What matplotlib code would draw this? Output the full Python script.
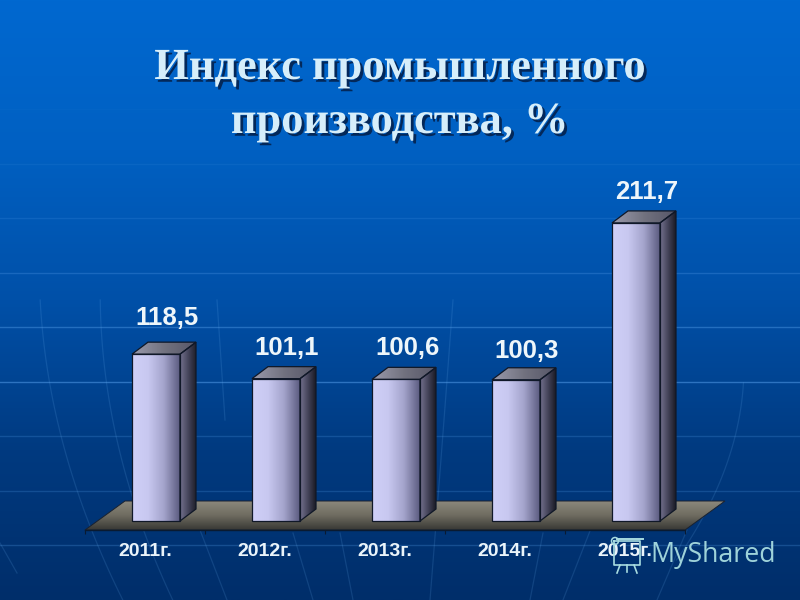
import numpy as np
import matplotlib
matplotlib.use("Agg")
import matplotlib.pyplot as plt
from matplotlib.colors import LinearSegmentedColormap as LSC
from matplotlib.patches import Polygon
import matplotlib.patheffects as pe

years = ["2011г.", "2012г.", "2013г.", "2014г.", "2015г."]
values = [118.5, 101.1, 100.6, 100.3, 211.7]
value_labels = ["118,5", "101,1", "100,6", "100,3", "211,7"]
title_lines = ["Индекс промышленного", "производства, %"]

W, H = 800, 600
PX_X = 120.0      # pixels per category
PX_Y = 1.408      # pixels per percent
X0 = 145.0        # pixel of first category
Y0 = 521.0        # pixel of value zero

fig = plt.figure(figsize=(8, 6), dpi=100)

# background
bg = fig.add_axes([0, 0, 1, 1], zorder=0)
bg.axis("off")
bgc = LSC.from_list("bg", ["#0068D0", "#0060C2", "#0050A8", "#003A80", "#002E6A"])
bg.imshow(np.linspace(0, 1, 256)[:, None], cmap=bgc, aspect="auto", extent=[0, W, H, 0], zorder=0)
rule_y = [109, 163.5, 218, 272.5, 327, 381.5, 436, 490.5, 545]
rule_a = [0.04, 0.10, 0.16, 0.28, 0.40, 0.50, 0.22, 0.22, 0.25]
for y, a in zip(rule_y, rule_a):
    bg.axhline(y, color="#5AA4F0", lw=1.0, alpha=a, zorder=1)
curves = [
    ([40, 50, 90, 123], [300, 383, 527, 600]),
    ([100, 107, 143, 173], [300, 383, 530, 600]),
    ([217, 225], [300, 420]),
    ([200, 227], [530, 600]),
    ([293, 313], [533, 600]),
    ([340, 353], [533, 600]),
    ([0, 17], [543, 573]),
    ([453, 443, 430], [300, 433, 600]),
    ([543, 530], [533, 600]),
    ([597, 563], [513, 600]),
    ([687, 657], [530, 600]),
    ([743, 733, 710, 677], [383, 450, 500, 560]),
]
for cx, cy in curves:
    deg = min(2, len(cx) - 1)
    yy = np.linspace(cy[0], cy[-1], 40)
    bg.plot(np.polyval(np.polyfit(cy, cx, deg), yy), yy, color="#6AB0F0", lw=0.9, alpha=0.16, zorder=1)
bg.set_xlim(0, W); bg.set_ylim(H, 0)

# data axes spanning the figure
ax = fig.add_axes([0, 0, 1, 1], zorder=1)
ax.patch.set_alpha(0)
ax.set_xlim((0 - X0) / PX_X, (W - X0) / PX_X)
ax.set_ylim((Y0 - H) / PX_Y, Y0 / PX_Y)
for s in ["top", "left", "right"]:
    ax.spines[s].set_visible(False)
ax.yaxis.set_visible(False)
floor_front = (Y0 - 530) / PX_Y
ax.spines["bottom"].set_position(("data", floor_front))
ax.spines["bottom"].set_bounds(-0.5, len(years) - 0.5)
ax.spines["bottom"].set_color("#0A1A30")
ax.spines["bottom"].set_linewidth(1.0)
pos = np.arange(len(years))
ax.set_xticks(pos)
ax.set_xticklabels(years, family="Liberation Sans", fontweight="bold", fontsize=14, color="#EAF4FA")
ax.tick_params(axis="x", which="major", length=0, pad=9.5)
ax.set_xticks(np.arange(len(years) + 1) - 0.5, minor=True)
ax.tick_params(axis="x", which="minor", length=3, width=0.8, color="#0A1A30")


def grad(cols, poly, extent, vertical=False, z=2, edge="#101828", elw=0.9):
    cmap = LSC.from_list("g", cols)
    arr = np.linspace(0, 1, 128)
    arr = arr[:, None] if vertical else arr[None, :]
    im = ax.imshow(arr, cmap=cmap, aspect="auto", extent=extent, zorder=z,
                   origin="upper" if vertical else "lower")
    im.set_clip_path(Polygon(poly, closed=True, transform=ax.transData))
    ax.add_patch(Polygon(poly, closed=True, fill=False, ec=edge, lw=elw, zorder=z + 0.1))


xl, yl = ax.get_xlim(), ax.get_ylim()

# floor
fdx, fdy = 40 / PX_X, 29 / PX_Y
fl, fr = -0.5, len(years) - 0.5
floor = [(fl, floor_front), (fr, floor_front), (fr + fdx, floor_front + fdy), (fl + fdx, floor_front + fdy)]
grad(["#8C887C", "#6E6B60", "#383834"], floor,
     [fl, fr + fdx, floor_front, floor_front + fdy], vertical=True, z=1.5, edge="#1A2230", elw=0.7)

# bars
shift = 11 / PX_X
bw = 48 / PX_X
dx, dy = 16 / PX_X, 12 / PX_Y
lift = [36, 31, 31, 29, 31]
for p, v, lab, lf in zip(pos, values, value_labels, lift):
    l, r = p + shift - bw / 2, p + shift + bw / 2
    grad(["#74728E", "#44445A", "#1A1A24"], [(r, 0), (r + dx, dy), (r + dx, v + dy), (r, v)],
         [r, r + dx, 0, v + dy])
    grad(["#9A9AAC", "#72727F", "#565668"], [(l, v), (r, v), (r + dx, v + dy), (l + dx, v + dy)],
         [l, r + dx, v, v + dy])
    grad(["#D0D0F8", "#C8C8F0", "#A4A4CC", "#5C5C80"], [(l, 0), (r, 0), (r, v), (l, v)],
         [l, r, 0, v])
    ax.annotate(lab, (p + shift, v), xytext=(11 * 0.72, lf * 0.72), textcoords="offset points",
                ha="center", va="center", family="Liberation Sans", fontweight="bold",
                fontsize=18.5, color="#EEF6FA", zorder=5)

ax.set_xlim(xl); ax.set_ylim(yl)

# title
shadow = [pe.withSimplePatchShadow(offset=(2, -2), shadow_rgbFace="#04224E", alpha=0.9)]
for line, yy in zip(title_lines, [68, 122]):
    ax.text(0.5, 1 - yy / H, line, transform=ax.transAxes, ha="center", va="center",
            family="Liberation Serif", fontweight="bold", fontsize=32, color="#D6EEFA",
            zorder=6, path_effects=shadow)

# watermark
wm = "#A8DCE0"
ax.text(650 / W, 1 - 555 / H, "MyShared", transform=ax.transAxes, ha="left", va="center",
        family="Open Sans", fontsize=19.3, color=wm, zorder=7, alpha=0.95)
ov = fig.add_axes([0, 0, 1, 1], zorder=2)
ov.axis("off")
ov.plot([614, 640, 640, 614, 614], [541, 541, 565, 565, 541], color=wm, lw=1.2)
ov.plot([617, 643], [539, 539], color=wm, lw=1.4)
ov.plot([620, 617], [565, 573], color=wm, lw=1.2)
ov.plot([627, 627], [565, 572], color=wm, lw=1.2)
ov.plot([634, 637], [565, 573], color=wm, lw=1.2)
ov.add_patch(plt.Circle((615, 541), 3.5, fill=False, ec=wm, lw=1.1))
ov.set_xlim(0, W); ov.set_ylim(H, 0)

fig.savefig("out.png", dpi=100)
